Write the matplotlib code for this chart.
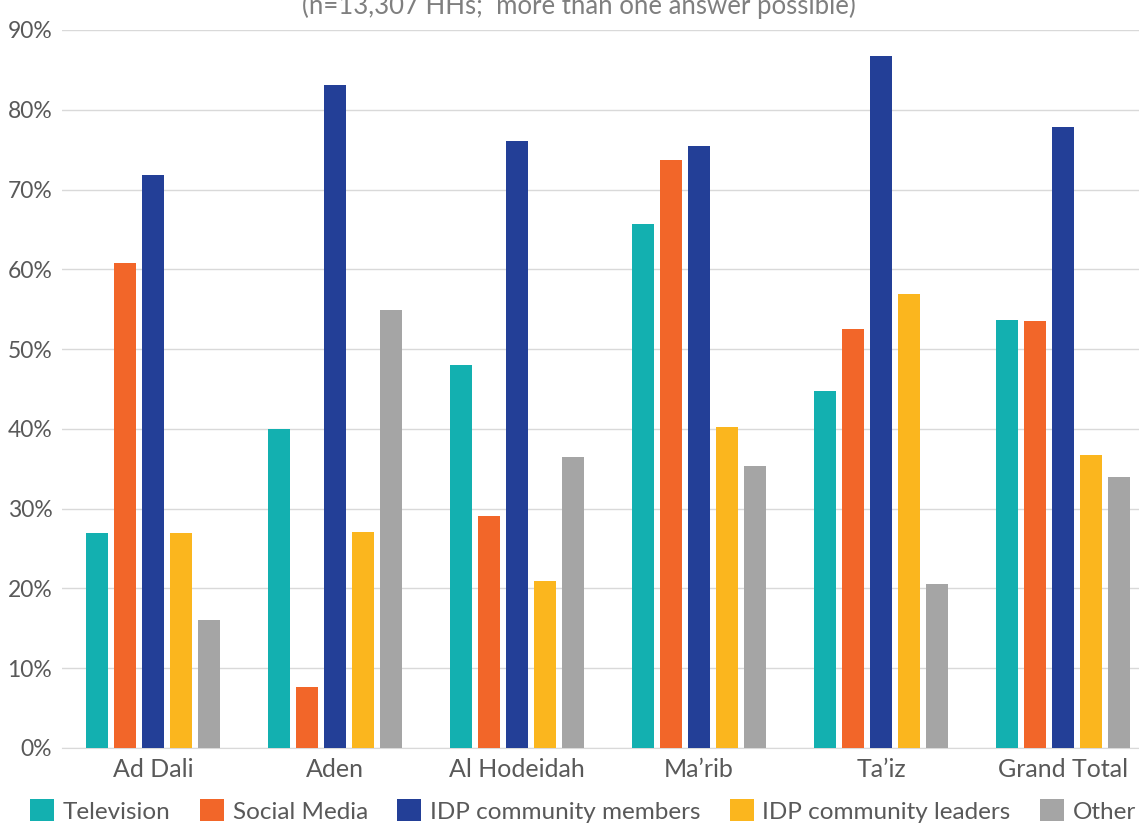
import matplotlib
matplotlib.use("Agg")
import matplotlib.pyplot as plt
import numpy as np
from matplotlib.ticker import FuncFormatter

categories = ["Ad Dali", "Aden", "Al Hodeidah", "Ma\u2019rib", "Ta\u2019iz", "Grand Total"]
series_names = ["Television", "Social Media", "IDP community members", "IDP community leaders", "Other"]
television = [27.0, 40.0, 48.0, 65.7, 44.7, 53.6]
social_media = [60.8, 7.6, 29.1, 73.7, 52.5, 53.5]
idp_members = [71.8, 83.1, 76.1, 75.4, 86.7, 77.9]
idp_leaders = [27.0, 27.1, 20.9, 40.2, 56.9, 36.7]
other = [16.0, 54.9, 36.5, 35.3, 20.6, 34.0]
colors = ["#13B0B0", "#F26629", "#233F97", "#FBB61E", "#A5A5A5"]
title = "(n=13,307 HHs;  more than one answer possible)"

plt.rcParams['font.family'] = ['Lato', 'DejaVu Sans']

fig = plt.figure(figsize=(11.39, 8.23), dpi=100)
ax = fig.add_axes([62/1139, 1-748/823, 1092/1139, (748-30)/823])

data = [television, social_media, idp_members, idp_leaders, other]
x = np.arange(len(categories))
step = 28/182
width = 22/182
for i, (vals, name, c) in enumerate(zip(data, series_names, colors)):
    ax.bar(x + (i-2)*step, vals, width=width, color=c, label=name, zorder=3)

ax.set_xlim(-0.5, len(categories)-0.5)
ax.set_ylim(0, 90)
ax.set_yticks(np.arange(0, 91, 10))
ax.yaxis.set_major_formatter(FuncFormatter(lambda v, p: f"{int(v)}%"))
ax.set_xticks(x)
ax.set_xticklabels(categories)
ax.grid(axis='y', color='#D9D9D9', lw=1, zorder=0)
for s in ['top', 'right', 'left']:
    ax.spines[s].set_visible(False)
ax.spines['bottom'].set_color('#D9D9D9')
ax.tick_params(axis='both', length=0, colors='#595959')
ax.tick_params(axis='y', pad=7, labelsize=16.5)
ax.tick_params(axis='x', pad=7, labelsize=18)

fig.text(579/1139, 1-14/823, title, ha='center', va='baseline', fontsize=18.5, color='#7F7F7F')

leg = fig.legend(loc='center', bbox_to_anchor=(583/1139, 1-811/823), ncol=5, frameon=False,
                 fontsize=17.5, handlelength=1.0, handleheight=1.0, handletextpad=0.35,
                 columnspacing=1.2, borderpad=0.1, borderaxespad=0, labelcolor='#595959')

fig.savefig("out.png", dpi=100)
